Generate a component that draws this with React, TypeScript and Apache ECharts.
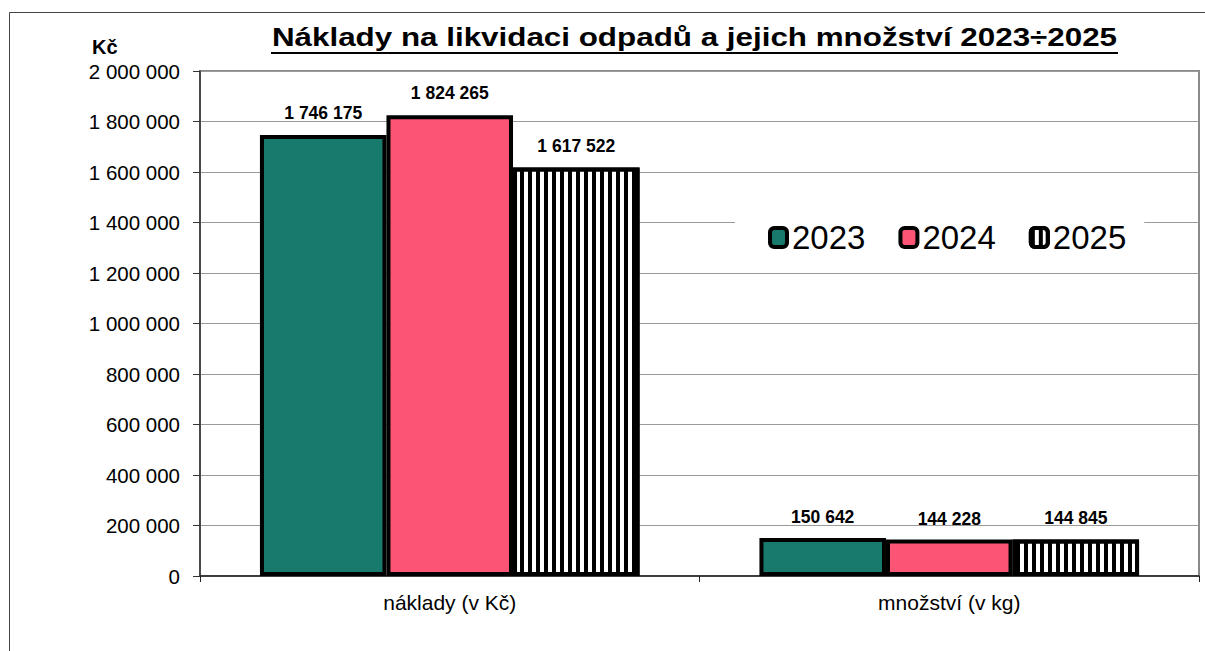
import React, { useEffect, useRef } from 'react';
import * as echarts from 'echarts';

const categories = ['náklady (v Kč)', 'množství (v kg)'];
const years = ['2023', '2024', '2025'];
const values2023 = [1746175, 150642];
const values2024 = [1824265, 144228];
const values2025 = [1617522, 144845];
const yMin = 0;
const yMax = 2000000;
const yInterval = 200000;
const titleText = 'Náklady na likvidaci odpadů a jejich množství 2023÷2025';
const unitText = 'Kč';

const FONT = '"Liberation Sans", Arial, sans-serif';

function fmt(v: number): string {
  return String(Math.round(v)).replace(/\B(?=(\d{3})+(?!\d))/g, ' ');
}

export default function App() {
  const ref = useRef<HTMLDivElement>(null);

  useEffect(() => {
    if (!ref.current) return;
    const chart = echarts.init(ref.current, undefined, { renderer: 'svg' });

    let sx = 1.2;
    try {
      const ctx = document.createElement('canvas').getContext('2d');
      if (ctx) {
        ctx.font = 'bold 26px "Liberation Sans", Arial, sans-serif';
        const w = ctx.measureText(titleText).width;
        if (w > 0) sx = 846 / w;
      }
    } catch (e) {}

    const labelCfg = (dist: number) => ({
      show: true,
      position: 'top' as const,
      distance: dist,
      formatter: (p: any) => fmt(p.value),
      fontSize: 17.5,
      fontWeight: 'bold' as const,
      color: '#000',
      fontFamily: FONT,
    });

    const mkSeries = (name: string, data: number[], itemStyle: any) => ({
      type: 'bar',
      name,
      data: data.map((v) => ({ value: v, label: { distance: v > 1000000 ? 13 : 12 } })),
      barGap: '0%',
      barCategoryGap: '24%',
      itemStyle,
      label: labelCfg(12),
      emphasis: { disabled: true },
    });

    chart.setOption({
      animation: false,
      backgroundColor: '#fff',
      grid: {
        left: 200,
        right: 6,
        top: 71,
        bottom: 75,
        show: true,
        borderColor: '#8a8a8a',
        borderWidth: 2,
        backgroundColor: 'transparent',
      },
      legend: {
        data: years,
        left: 735,
        top: 207,
        orient: 'horizontal',
        backgroundColor: '#fff',
        padding: [14, 18, 14, 33],
        itemGap: 33,
        itemWidth: 17,
        itemHeight: 19,
        icon: 'roundRect',
        itemStyle: { borderColor: '#000', borderWidth: 4 },
        textStyle: { fontSize: 33, color: '#000', fontFamily: FONT },
        selectedMode: false,
      },
      xAxis: {
        type: 'category',
        data: categories,
        axisLine: { show: true, lineStyle: { color: '#222', width: 1.5 } },
        axisTick: { show: true, length: 6, lineStyle: { color: '#222', width: 1 } },
        axisLabel: { fontSize: 21, color: '#000', margin: 16, fontFamily: FONT },
        splitLine: { show: false },
      },
      yAxis: {
        type: 'value',
        min: yMin,
        max: yMax,
        interval: yInterval,
        axisLine: { show: true, lineStyle: { color: '#333', width: 1.5 } },
        axisTick: { show: true, length: 7, lineStyle: { color: '#333', width: 1 } },
        axisLabel: {
          fontSize: 20.5,
          color: '#000',
          margin: 20,
          fontFamily: FONT,
          formatter: (v: number) => fmt(v),
        },
        splitLine: { show: true, lineStyle: { color: '#9a9a9a', width: 1 } },
      },
      series: [
        mkSeries(years[0], values2023, { color: '#187A6D', borderColor: '#000', borderWidth: 4 }),
        mkSeries(years[1], values2024, { color: '#FB5474', borderColor: '#000', borderWidth: 4 }),
        mkSeries(years[2], values2025, {
          color: '#fff',
          borderColor: '#000',
          borderWidth: 4,
          decal: {
            symbol: 'rect',
            symbolSize: 1,
            color: '#000',
            dashArrayX: [4, 4],
            dashArrayY: [1, 0],
            rotation: 0,
          },
        }),
      ],
      graphic: [
        {
          type: 'rect',
          shape: { x: 9.5, y: 12.5, width: 1400, height: 800 },
          style: { fill: 'none', stroke: '#444', lineWidth: 1 },
          silent: true,
          z: 100,
        },
        {
          type: 'text',
          x: 694.5,
          y: 37,
          scaleX: sx,
          style: {
            text: titleText,
            fontSize: 26,
            fontWeight: 'bold',
            fontFamily: FONT,
            fill: '#000',
            align: 'center',
            verticalAlign: 'middle',
          },
          silent: true,
        },
        {
          type: 'line',
          shape: { x1: 271, y1: 53, x2: 1118, y2: 53 },
          style: { stroke: '#000', lineWidth: 2 },
          silent: true,
        },
        {
          type: 'text',
          x: 92,
          y: 47,
          style: {
            text: unitText,
            fontSize: 20,
            fontWeight: 'bold',
            fontFamily: FONT,
            fill: '#000',
            align: 'left',
            verticalAlign: 'middle',
          },
          silent: true,
        },
      ],
    });

    return () => {
      chart.dispose();
    };
  }, []);

  return (
    <div
      ref={ref}
      style={{ position: 'absolute', left: 0, top: 0, width: 1205, height: 651 }}
    />
  );
}
